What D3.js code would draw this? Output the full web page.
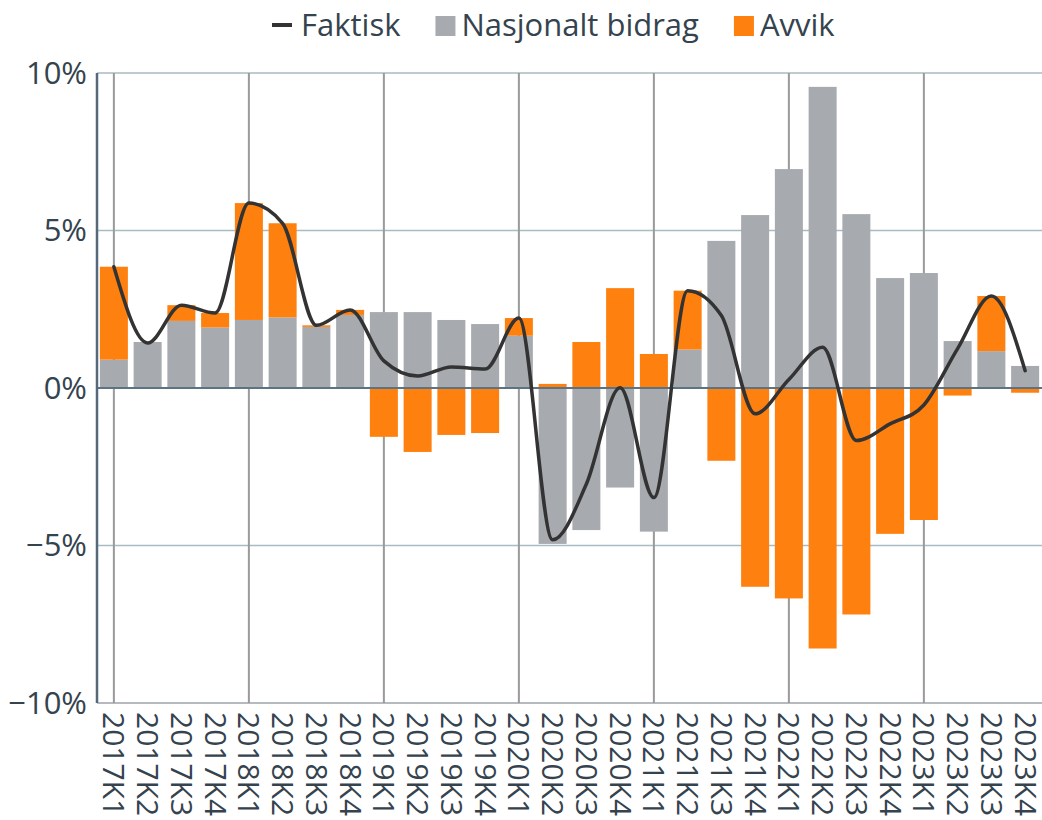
<!DOCTYPE html>
<html>
<head>
<meta charset="utf-8">
<script src="https://cdn.jsdelivr.net/npm/d3@7"></script>
<style>
  body { margin: 0; background: #fff; }
  text { font-family: "Open Sans", sans-serif; fill: #35434e; }
</style>
</head>
<body>
<script>
// quarters, values in percent
const quarters = ["2017K1","2017K2","2017K3","2017K4","2018K1","2018K2","2018K3","2018K4",
    "2019K1","2019K2","2019K3","2019K4","2020K1","2020K2","2020K3","2020K4",
    "2021K1","2021K2","2021K3","2021K4","2022K1","2022K2","2022K3","2022K4",
    "2023K1","2023K2","2023K3","2023K4"];

const nasjonalt = [0.9, 1.46, 2.13, 1.92, 2.16, 2.24, 1.94, 2.32,
    2.41, 2.41, 2.16, 2.03, 1.66, -4.95, -4.51, -3.16,
    -4.56, 1.22, 4.67, 5.49, 6.95, 9.56, 5.52, 3.49,
    3.65, 1.49, 1.17, 0.70];

const avvik = [2.95, -0.03, 0.5, 0.46, 3.71, 2.99, 0.05, 0.16,
    -1.55, -2.03, -1.49, -1.43, 0.56, 0.13, 1.46, 3.17,
    1.08, 1.87, -2.31, -6.31, -6.68, -8.27, -7.19, -4.63,
    -4.19, -0.24, 1.75, -0.15];

const faktisk = [3.85, 1.43, 2.63, 2.38, 5.87, 5.23, 1.99, 2.48,
    0.86, 0.38, 0.67, 0.6, 2.22, -4.82, -3.05, 0.01,
    -3.48, 3.09, 2.3, -0.82, 0.27, 1.29, -1.67, -1.14,
    -0.54, 1.25, 2.92, 0.55];

const yTicks = [-10, -5, 0, 5, 10];

const width = 1042, height = 820;
const margin = {top: 73, left: 97, right: 0, bottom: 117};

const svg = d3.select("body").append("svg")
    .attr("width", width)
    .attr("height", height);

const x = d3.scaleBand()
    .domain(quarters)
    .range([margin.left, width - margin.right])
    .paddingInner(0.17)
    .paddingOuter(0.085);

const y = d3.scaleLinear()
    .domain([-10, 10])
    .range([height - margin.bottom, margin.top]);

const rows = quarters.map((q, i) => ({q: q, nasjonalt: nasjonalt[i], avvik: avvik[i]}));
const series = d3.stack()
    .keys(["nasjonalt", "avvik"])
    .offset(d3.stackOffsetDiverging)(rows);

const colors = {nasjonalt: "#a7abaf", avvik: "#fe800f"};

// horizontal grid
svg.append("g")
    .selectAll("line")
    .data(yTicks.filter(d => d !== 0))
    .join("line")
    .attr("x1", margin.left)
    .attr("x2", width)
    .attr("y1", d => y(d))
    .attr("y2", d => y(d))
    .attr("stroke", d => d === -10 ? "#9ea3a8" : "#a9bac5")
    .attr("stroke-width", 1.5);

// vertical grid at each K1
svg.append("g")
    .selectAll("line")
    .data(quarters.filter(q => q.endsWith("K1")))
    .join("line")
    .attr("x1", d => x(d) + x.bandwidth() / 2)
    .attr("x2", d => x(d) + x.bandwidth() / 2)
    .attr("y1", y(10))
    .attr("y2", y(-10))
    .attr("stroke", "#9a9a9a")
    .attr("stroke-width", 2);

// bars
svg.append("g")
    .selectAll("g")
    .data(series)
    .join("g")
    .attr("fill", d => colors[d.key])
    .selectAll("rect")
    .data(d => d)
    .join("rect")
    .attr("x", d => x(d.data.q))
    .attr("width", x.bandwidth())
    .attr("y", d => y(Math.max(d[0], d[1])))
    .attr("height", d => Math.abs(y(d[0]) - y(d[1])));

// zero line + y axis line
svg.append("line")
    .attr("x1", margin.left).attr("x2", width)
    .attr("y1", y(0)).attr("y2", y(0))
    .attr("stroke", "#5d7282").attr("stroke-width", 2);

svg.append("line")
    .attr("x1", margin.left).attr("x2", margin.left)
    .attr("y1", y(10)).attr("y2", y(-10))
    .attr("stroke", "#56697a").attr("stroke-width", 2.5);

// line
const line = d3.line()
    .x((d, i) => x(quarters[i]) + x.bandwidth() / 2)
    .y(d => y(d))
    .curve(d3.curveMonotoneX);

svg.append("path")
    .datum(faktisk)
    .attr("d", line)
    .attr("fill", "none")
    .attr("stroke", "#333333")
    .attr("stroke-width", 3.5)
    .attr("stroke-linecap", "round");

// y labels
svg.append("g")
    .selectAll("text")
    .data(yTicks)
    .join("text")
    .attr("x", margin.left - 10)
    .attr("y", d => y(d))
    .attr("dy", "0.35em")
    .attr("text-anchor", "end")
    .style("font-size", "31px")
    .text(d => (d < 0 ? "\u2212" + Math.abs(d) : d) + "%");

// x labels, rotated
svg.append("g")
    .selectAll("text")
    .data(quarters)
    .join("text")
    .attr("transform", d => `translate(${x(d) + x.bandwidth() / 2},${y(-10) + 9}) rotate(90)`)
    .attr("dy", "0.35em")
    .style("font-size", "30px")
    .text(d => d);

// legend
const legend = svg.append("g");
const items = [
    {label: "Faktisk", type: "line", color: "#333333"},
    {label: "Nasjonalt bidrag", type: "rect", color: colors.nasjonalt},
    {label: "Avvik", type: "rect", color: colors.avvik}
];
let lx = 0;
items.forEach(it => {
    const g = legend.append("g").attr("transform", `translate(${lx},0)`);
    let tx;
    if (it.type === "line") {
        g.append("rect").attr("x", 0).attr("y", -2).attr("width", 20).attr("height", 4).attr("fill", it.color);
        tx = 29;
    } else {
        g.append("rect").attr("x", 0).attr("y", -9).attr("width", 20).attr("height", 20).attr("fill", it.color);
        tx = 26;
    }
    const t = g.append("text")
        .attr("x", tx)
        .attr("dy", "0.35em")
        .style("font-size", "31px")
        .text(it.label);
    lx += tx + t.node().getComputedTextLength() + 35;
});
legend.attr("transform", "translate(272,25)");
</script>
</body>
</html>
